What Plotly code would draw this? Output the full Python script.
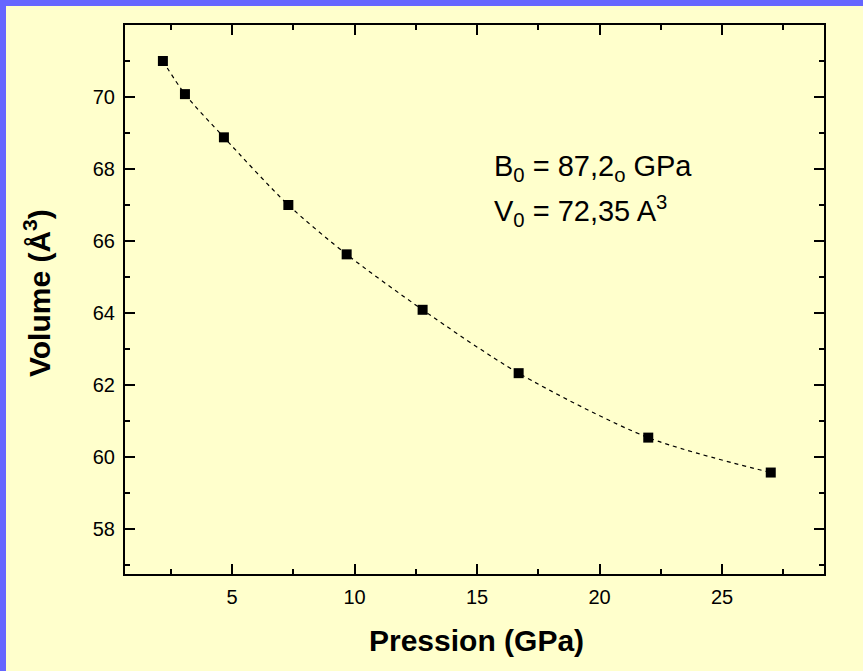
import plotly.graph_objects as go

# Data
pression = [2.18, 3.08, 4.67, 7.30, 9.68, 12.78, 16.70, 21.99, 26.99]
volume = [70.99, 70.07, 68.87, 66.99, 65.62, 64.08, 62.32, 60.53, 59.56]
x_ticks = [5, 10, 15, 20, 25]
y_ticks = [58, 60, 62, 64, 66, 68, 70]

W, H = 863, 671
L, R, T, B = 125, 824, 25, 574   # plot area in pixels
pw, ph = R - L, B - T

def px(x):
    return (x - L) / pw

def py(y):
    return (B - y) / ph

FONT = "Liberation Sans, Arial, sans-serif"
BG = "#ffffcc"
BLUE = "#6666ff"

fig = go.Figure()
fig.add_trace(go.Scatter(
    x=pression, y=volume, mode="lines",
    line=dict(color="black", width=1.2, dash="4px,4px", shape="spline", smoothing=0.8),
    hoverinfo="skip", showlegend=False,
))
fig.add_trace(go.Scatter(
    x=pression, y=volume, mode="markers",
    marker=dict(symbol="square", size=10, color="black", line=dict(width=0)),
    showlegend=False,
))

axis_common = dict(
    showgrid=False, zeroline=False,
    showline=True, linecolor="black", linewidth=2,
    mirror="ticks", ticks="inside", ticklen=10, tickwidth=2, tickcolor="black",
    tickfont=dict(family=FONT, size=20, color="black"),
)

fig.update_xaxes(
    range=[0.633, 29.163], tickvals=x_ticks, ticktext=[str(v) for v in x_ticks],
    minor=dict(ticks="inside", ticklen=5, tickwidth=2, tickcolor="black", dtick=2.5, tick0=0),
    ticklabelstandoff=4,
    **axis_common,
)
fig.update_yaxes(
    range=[56.742, 71.99], tickvals=y_ticks, ticktext=[str(v) for v in y_ticks],
    minor=dict(ticks="inside", ticklen=5, tickwidth=2, tickcolor="black", dtick=1, tick0=0),
    ticklabelstandoff=4,
    **axis_common,
)

shapes = [
    # blue frame strips (left and top)
    dict(type="rect", xref="paper", yref="paper", x0=px(0), x1=px(6), y0=py(H + 50), y1=py(0),
         fillcolor=BLUE, line=dict(width=0), layer="below"),
    dict(type="rect", xref="paper", yref="paper", x0=px(0), x1=px(W + 50), y0=py(6), y1=py(0),
         fillcolor=BLUE, line=dict(width=0), layer="below"),
]

annotations = [
    dict(text="Pression (GPa)", xref="paper", yref="paper", x=px(476), y=py(640),
         showarrow=False, xanchor="center", yanchor="middle",
         font=dict(family=FONT, size=30, color="black", weight="bold")),
    dict(text="Volume (Å<sup>3</sup>)", xref="paper", yref="paper", x=px(37), y=py(293),
         showarrow=False, xanchor="center", yanchor="middle", textangle=-90,
         font=dict(family=FONT, size=30, color="black", weight="bold")),
    dict(text="B<sub>0</sub> = 87,2<sub>o</sub> GPa", xref="paper", yref="paper", x=px(492), y=py(168),
         showarrow=False, xanchor="left", yanchor="middle",
         font=dict(family=FONT, size=29, color="black")),
    dict(text="V<sub>0</sub> = 72,35 A<sup>3</sup>", xref="paper", yref="paper", x=px(492), y=py(211),
         showarrow=False, xanchor="left", yanchor="middle",
         font=dict(family=FONT, size=29, color="black")),
]

fig.update_layout(
    width=W, height=H,
    margin=dict(l=L, r=W - R, t=T, b=H - B, autoexpand=False),
    paper_bgcolor=BG, plot_bgcolor=BG,
    shapes=shapes, annotations=annotations,
    showlegend=False,
)

fig.write_html(
    "out.html",
    config={"displayModeBar": False},
    post_script="document.body.style.margin='0';document.body.style.background='%s';" % BG,
)
